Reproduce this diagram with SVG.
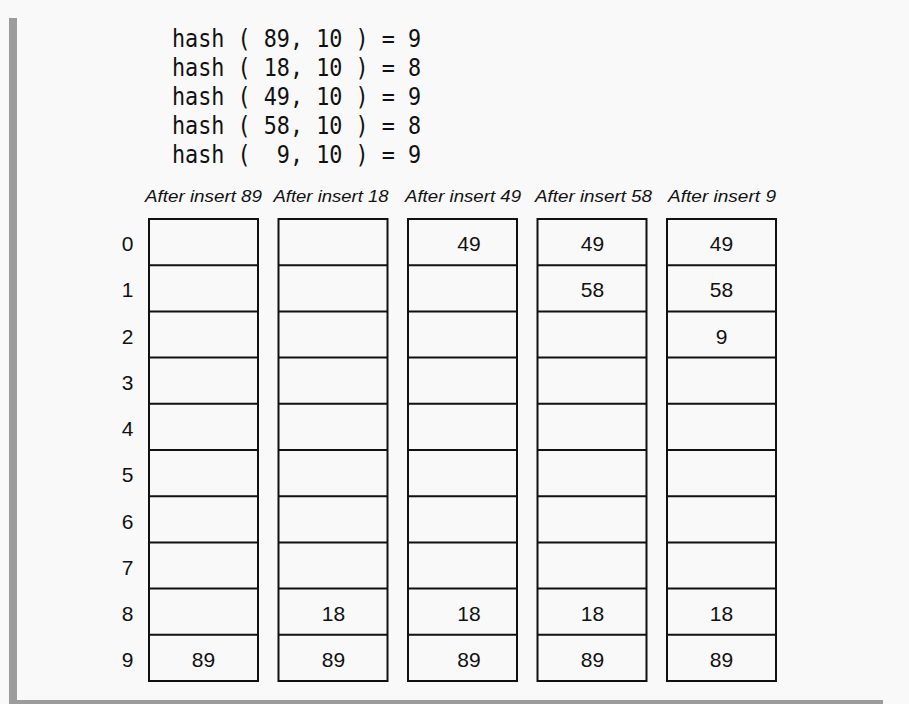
<svg xmlns="http://www.w3.org/2000/svg" width="909" height="704" viewBox="0 0 909 704">
<style>
.bg{fill:#f9f9f9}
.frame{fill:#9c9c9c}
.cell{fill:none;stroke:#111;stroke-width:2}
.hash{font-family:"DejaVu Sans Mono","Liberation Mono",monospace;font-size:25px;fill:#111;white-space:pre}
.hdr{font-family:"Liberation Sans",Arial,sans-serif;font-style:italic;font-size:16.5px;fill:#111;text-anchor:middle}
.val{font-family:"Liberation Sans",Arial,sans-serif;font-size:21px;fill:#111;text-anchor:middle}
</style>
<defs>
<g id="table">
<rect class="cell" x="0" y="219" width="109" height="462"/>
<path class="cell" d="M0 265.2H109M0 311.4H109M0 357.6H109M0 403.8H109M0 450H109M0 496.2H109M0 542.4H109M0 588.6H109M0 634.8H109"/>
</g>
</defs>
<rect class="bg" x="0" y="0" width="909" height="704"/>
<g id="frame">
<rect class="frame" x="9" y="18" width="8" height="686"/>
<rect class="frame" x="9" y="700" width="874" height="4"/>
</g>
<g id="hash-lines">
<text class="hash" x="172" y="47" textLength="249" lengthAdjust="spacingAndGlyphs">hash ( 89, 10 ) = 9</text>
<text class="hash" x="172" y="76" textLength="249" lengthAdjust="spacingAndGlyphs">hash ( 18, 10 ) = 8</text>
<text class="hash" x="172" y="105" textLength="249" lengthAdjust="spacingAndGlyphs">hash ( 49, 10 ) = 9</text>
<text class="hash" x="172" y="134" textLength="249" lengthAdjust="spacingAndGlyphs">hash ( 58, 10 ) = 8</text>
<text class="hash" x="172" y="163" textLength="249" lengthAdjust="spacingAndGlyphs">hash (  9, 10 ) = 9</text>
</g>
<g id="row-labels">
<text class="val" x="127.5" y="251">0</text>
<text class="val" x="127.5" y="297">1</text>
<text class="val" x="127.5" y="343.5">2</text>
<text class="val" x="127.5" y="389.5">3</text>
<text class="val" x="127.5" y="436">4</text>
<text class="val" x="127.5" y="482">5</text>
<text class="val" x="127.5" y="528.5">6</text>
<text class="val" x="127.5" y="574.5">7</text>
<text class="val" x="127.5" y="620.5">8</text>
<text class="val" x="127.5" y="667">9</text>
</g>
<g id="col-89">
<text class="hdr" x="203.5" y="202" textLength="117" lengthAdjust="spacingAndGlyphs">After insert 89</text>
<use href="#table" x="149"/>
<text class="val" x="203.5" y="667">89</text>
</g>
<g id="col-18">
<text class="hdr" x="331" y="202" textLength="115" lengthAdjust="spacingAndGlyphs">After insert 18</text>
<use href="#table" x="278.5"/>
<text class="val" x="333.5" y="620.5">18</text>
<text class="val" x="333.5" y="667">89</text>
</g>
<g id="col-49">
<text class="hdr" x="463" y="202" textLength="116" lengthAdjust="spacingAndGlyphs">After insert 49</text>
<use href="#table" x="408"/>
<text class="val" x="469" y="251">49</text>
<text class="val" x="469" y="620.5">18</text>
<text class="val" x="469" y="667">89</text>
</g>
<g id="col-58">
<text class="hdr" x="593.5" y="202" textLength="117" lengthAdjust="spacingAndGlyphs">After insert 58</text>
<use href="#table" x="537.5"/>
<text class="val" x="592.5" y="251">49</text>
<text class="val" x="592.5" y="297">58</text>
<text class="val" x="592.5" y="620.5">18</text>
<text class="val" x="592.5" y="667">89</text>
</g>
<g id="col-9">
<text class="hdr" x="722" y="202" textLength="108" lengthAdjust="spacingAndGlyphs">After insert 9</text>
<use href="#table" x="667"/>
<text class="val" x="721.5" y="251">49</text>
<text class="val" x="721.5" y="297">58</text>
<text class="val" x="721.5" y="343.5">9</text>
<text class="val" x="721.5" y="620.5">18</text>
<text class="val" x="721.5" y="667">89</text>
</g>
<g id="connectors"/>
</svg>
